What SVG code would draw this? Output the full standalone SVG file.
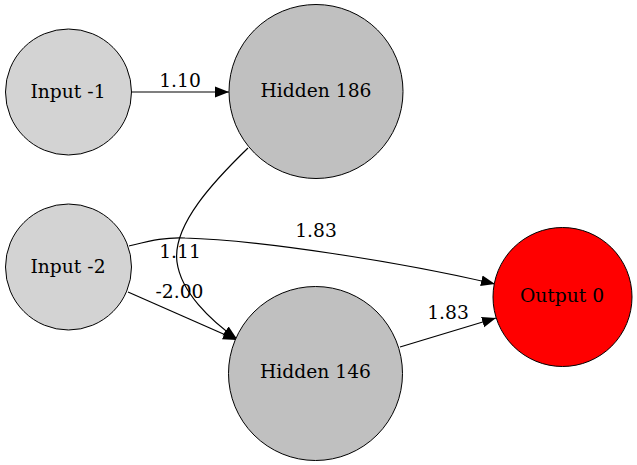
<svg xmlns="http://www.w3.org/2000/svg" width="637" height="465" viewBox="0 0 637 465">
<style>
.node{stroke:#000;stroke-width:1}
.in{fill:#d3d3d3}
.hid{fill:#c0c0c0}
.out{fill:#ff0000}
text{font-family:"DejaVu Serif",serif;font-size:18.7px;text-anchor:middle;fill:#000}
.edge{fill:none;stroke:#000;stroke-width:1.2;marker-end:url(#arr)}
</style>
<defs>
<marker id="arr" markerUnits="userSpaceOnUse" markerWidth="15" markerHeight="12" refX="14" refY="6" orient="auto">
<path d="M0,0.6 L14,6 L0,11.4 z" fill="#000"/>
</marker>
</defs>
<rect width="637" height="465" fill="#fff"/>
<g id="edges">
<path class="edge" d="M132,92 L229,92"/>
<path class="edge" d="M248,148 C215,180 172,225 177,262 C181,292 210,320 237,339"/>
<path class="edge" d="M128,292 L237,340"/>
<path class="edge" d="M129,246 C150,241 165,237 185,238 C260,240 400,262 495,284"/>
<path class="edge" d="M400,347 L496,318"/>
<text x="180" y="87">1.10</text>
<text x="180" y="258">1.11</text>
<text x="179.5" y="298">-2.00</text>
<text x="316" y="237">1.83</text>
<text x="448" y="319">1.83</text>
</g>
<g id="input-1"><circle class="node in" cx="68.5" cy="92" r="63"/><text x="68" y="97.5">Input -1</text></g>
<g id="input-2"><circle class="node in" cx="68.5" cy="267" r="63"/><text x="68" y="272.5">Input -2</text></g>
<g id="hidden-186"><circle class="node hid" cx="316" cy="91.5" r="87"/><text x="316" y="97">Hidden 186</text></g>
<g id="hidden-146"><circle class="node hid" cx="315.5" cy="373.5" r="87"/><text x="315.5" y="378">Hidden 146</text></g>
<g id="output-0"><circle class="node out" cx="562.5" cy="297" r="69.5"/><text x="562" y="302">Output 0</text></g>
</svg>
